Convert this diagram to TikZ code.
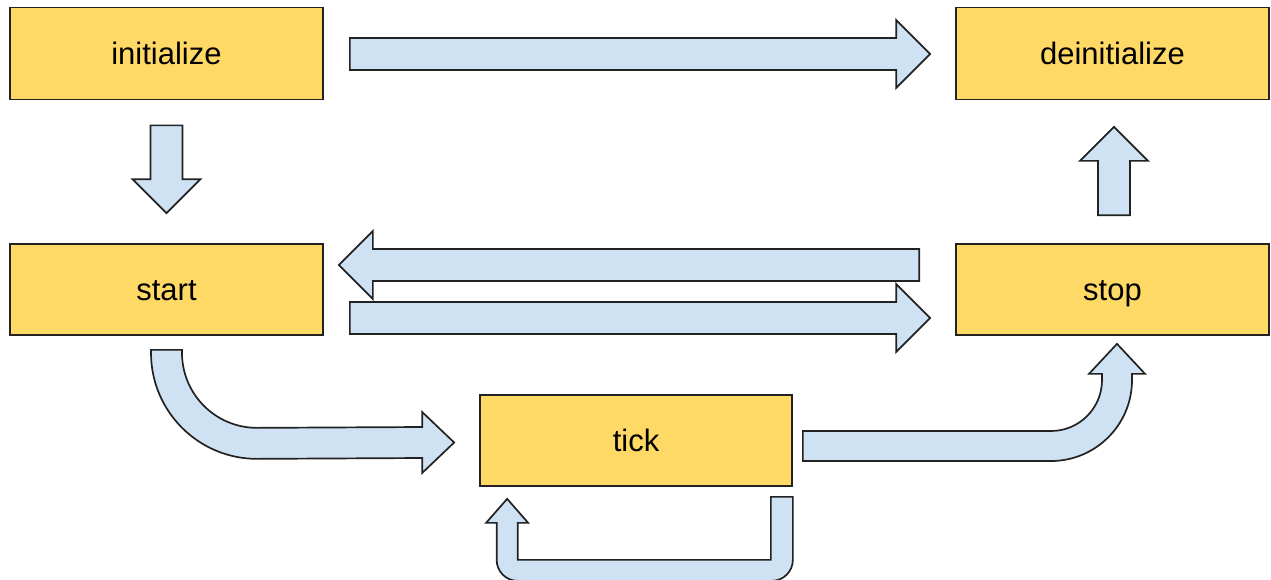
\documentclass[tikz,border=0pt]{standalone}
\usepackage{fontspec}
\setmainfont{Liberation Sans}
\usetikzlibrary{calc}

\definecolor{boxyellow}{HTML}{FFD966}
\definecolor{arrowblue}{HTML}{CFE2F3}
\definecolor{edgegray}{HTML}{222222}

\tikzset{
	stagebox/.style={draw=edgegray, line width=1.7pt, fill=boxyellow, inner sep=0pt,
		minimum width=313pt, minimum height=92pt, text height=22.5pt, text depth=0pt,
		font=\fontsize{31}{37}\selectfont},
	blockarrow/.style={draw=edgegray, line width=1.7pt, fill=arrowblue, line join=miter},
}

% straight block arrow, tail #1 to tip #2
\newcommand\fatarrow[2]{%
	\coordinate (fa-base) at ($(#2)!34pt!(#1)$);
	\draw[blockarrow] ($(#1)!16pt!90:(#2)$) -- ($(fa-base)!16pt!90:(#2)$)
		-- ($(fa-base)!34pt!90:(#2)$) -- (#2) -- ($(fa-base)!34pt!-90:(#2)$)
		-- ($(fa-base)!16pt!-90:(#2)$) -- ($(#1)!16pt!-90:(#2)$) -- cycle;}

\begin{document}
\begin{tikzpicture}[x=1pt, y=-1pt]
		\useasboundingbox (0,0) rectangle (1271,579);

		% Stages
		\node[stagebox] (init) at (166.5,53.5) {initialize};
		\node[stagebox] (deinit) at (1112.5,53.5) {deinitialize};
		\node[stagebox, minimum height=91pt] (start) at (166.5,289.5) {start};
		\node[stagebox, minimum height=91pt] (stop) at (1112.5,289.5) {stop};
		\node[stagebox, minimum width=312pt, minimum height=91pt] (tick) at (636,440.5) {tick};

		% Arrow ends
		\coordinate (a1) at ($(init.east)+(26,0.5)$);
		\coordinate (a2) at ($(deinit.west)+(-25,0.5)$);
		\coordinate (b1) at ($(init.south)+(0,25)$);
		\coordinate (b2) at ($(start.north)+(0,-30)$);
		\coordinate (c1) at ($(stop.west)+(-36,-24.5)$);
		\coordinate (c2) at ($(start.east)+(15,-24.5)$);
		\coordinate (d1) at ($(start.east)+(26,28.5)$);
		\coordinate (d2) at ($(stop.west)+(-25,28.5)$);
		\coordinate (e1) at ($(stop.north)+(1.5,-28)$);
		\coordinate (e2) at ($(deinit.south)+(1.5,26.5)$);

		% Straight arrows
		\fatarrow{a1}{a2}
		\fatarrow{b1}{b2}
		\fatarrow{c1}{c2}
		\fatarrow{d1}{d2}
		\fatarrow{e1}{e2}

		% start -> tick, bent
		\coordinate (s1) at ($(start.south)+(0,14)$);
		\coordinate (s2) at ($(tick.west)+(-25,2)$);
		\draw[blockarrow] ([shift={(15.5,0)}]s1) -- ++(0,3) arc (180:90:75)
			-- ([shift={(-32,-15.5)}]s2) -- ++(0,-15) -- (s2) -- ++(-32,30.5) -- ++(0,-15)
			-- ([shift={(90.5,109)}]s1) arc (90:180:106) -- ++(0,-3) -- cycle;

		% tick -> stop, bent
		\coordinate (t1) at ($(tick.east)+(10,5.5)$);
		\coordinate (t2) at ($(stop.south)+(4.5,8)$);
		\coordinate (k2) at (t2 |- t1);
		\draw[blockarrow] ([shift={(0,-15)}]t1) -- ([shift={(-66,-15)}]k2) arc (90:0:51)
			-- ([shift={(-15,30)}]t2) -- ++(-13,0) -- (t2) -- ++(28,30) -- ++(-13,0)
			-- ([shift={(15,-66)}]k2) arc (0:90:81) -- ([shift={(0,15)}]t1) -- cycle;

		% tick -> tick loop
		\coordinate (l1) at ($(tick.south east)+(-11,10)$);
		\coordinate (l2) at ($(tick.south west)+(28,12)$);
		\draw[blockarrow] ([shift={(-11,0)}]l1) -- ++(0,63) -- ([shift={(10.5,61)}]l2)
			-- ([shift={(10.5,24)}]l2) -- ++(10.5,0) -- (l2) -- ([shift={(-21,24)}]l2) -- ++(10.5,0)
			-- ++(0,37) arc (180:90:21) -- ([shift={(-10,84)}]l1) arc (90:0:21)
			-- ([shift={(11,0)}]l1) -- cycle;
	\end{tikzpicture}
\end{document}
